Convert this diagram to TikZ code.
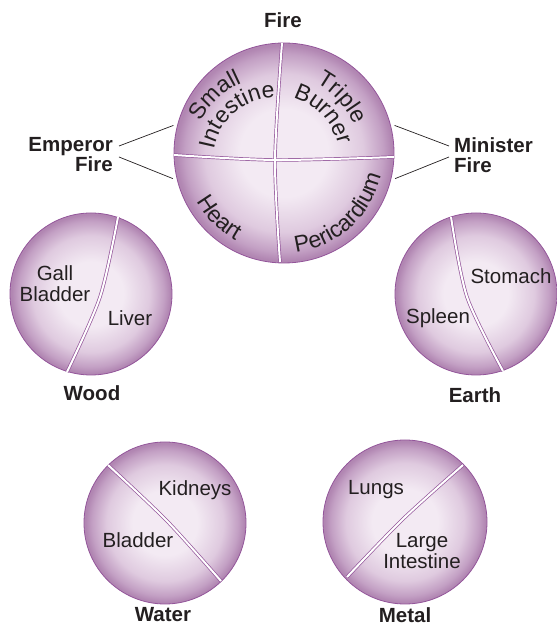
\documentclass[tikz,border=0pt]{standalone}
\usepackage{fontspec}
\setmainfont{Liberation Sans}
\usetikzlibrary{decorations.text}

\definecolor{orbCore}{HTML}{F3EAF3}
\definecolor{orbMid}{HTML}{DFCADF}
\definecolor{orbRim}{HTML}{C3A0C4}
\definecolor{orbEdge}{HTML}{B186B2}
\definecolor{orbLine}{HTML}{93559A}
\definecolor{ink}{HTML}{231F20}

\pgfdeclareradialshading{orbshade}{\pgfpoint{0bp}{0bp}}{%
  color(0bp)=(orbCore); color(10bp)=(orbCore); color(18bp)=(orbMid);
  color(22.5bp)=(orbRim); color(24.5bp)=(orbEdge); color(25bp)=(orbEdge); color(50bp)=(orbEdge)}

\tikzset{
  orb/.style={circle, draw=orbLine, line width=0.8pt, shading=orbshade, inner sep=0pt, outer sep=4pt},
  organ/.style={font=\fontsize{20.5}{21}\selectfont, text=ink, align=center, inner sep=0pt},
  element/.style={organ, font=\bfseries\fontsize{20.5}{20}\selectfont},
  leader/.style={draw=ink, line width=0.7pt},
  seam/.style={draw=orbLine, line width=0.7pt, double=white, double distance=2pt},
  arctext/.style={decorate, decoration={text along path, text align=center,
    text color=ink, text={|\fontsize{23}{23}\selectfont|#1}}}
}

\begin{document}
\begin{tikzpicture}[x=1pt,y=1pt]
\useasboundingbox (0,0) rectangle (556,628);

% orbs
\node[orb, minimum size=220pt] (fire) at (284,475) {};
\node[orb, minimum size=162pt] (wood) at (91,334) {};
\node[orb, minimum size=162pt] (earth) at (476,334) {};
\node[orb, minimum size=162pt] (water) at (165,105) {};
\node[orb, minimum size=164pt] (metal) at (405,106) {};

% seams of the fire orb
\foreach \w/\c in {3.4pt/orbLine, 2pt/white} {
  \draw[line width=\w, draw=\c] plot[smooth] coordinates {(174,473) (275,468) (394,471)};
  \draw[line width=\w, draw=\c] plot[smooth] coordinates {(282,585) (275,468) (280,366)};
}

% seams of the other orbs
\draw[seam] plot[smooth] coordinates {(118,411) (100,331) (67,256)};
\draw[seam] plot[smooth] coordinates {(451,411) (467,331) (503,257)};
\draw[seam] plot[smooth] coordinates {(108,163) (167,107) (221,47)};
\draw[seam] plot[smooth] coordinates {(463,163) (403,109) (347,51)};

% curved names on the fire orb
\coordinate (hub) at (275,468);
\path[arctext=Small] (hub) ++(203:84pt) arc[start angle=203, end angle=63, radius=84pt];
\path[arctext=Intestine] (hub) ++(200:62pt) arc[start angle=200, end angle=60, radius=62pt];
\path[arctext=Triple] (hub) ++(113:87pt) arc[start angle=113, end angle=-27, radius=87pt];
\path[arctext=Burner] (hub) ++(113.5:65pt) arc[start angle=113.5, end angle=-26.5, radius=65pt];
\path[arctext=Heart] (fire.center) ++(155:100pt) arc[start angle=155, end angle=295, radius=100pt];
\path[arctext=Pericardium] (fire.center) ++(242:100pt) arc[start angle=242, end angle=382, radius=100pt];

% elements
\node[element] (firelbl) at (283,608) {Fire};
\node[element, anchor=east, align=right] (emp) at (113,473) {Emperor\\Fire};
\node[element, anchor=west, align=left] (min) at (454,473) {Minister\\Fire};
\node[element] (woodlbl) at (92,235) {Wood};
\node[element] (earthlbl) at (475,233) {Earth};
\node[element] (waterlbl) at (163,13) {Water};
\node[element] (metallbl) at (405,13) {Metal};

% leaders
\coordinate (empA) at (119,482);
\coordinate (empB) at (119,471);
\coordinate (minA) at (449,482);
\coordinate (minB) at (449,471);
\draw[leader] (empA) -- (fire.166);
\draw[leader] (empB) -- (fire.193);
\draw[leader] (minA) -- (fire.14);
\draw[leader] (minB) -- (fire.-13);

% organs
\node[organ] (gall) at (55,344) {Gall\\Bladder};
\node[organ] (liver) at (130,310) {Liver};
\node[organ] (stomach) at (511,352) {Stomach};
\node[organ] (spleen) at (438,310) {Spleen};
\node[organ] (kidneys) at (195,138) {Kidneys};
\node[organ] (bladder) at (138,88) {Bladder};
\node[organ] (lungs) at (376,138) {Lungs};
\node[organ] (largeint) at (422,77) {Large\\Intestine};
\end{tikzpicture}
\end{document}
